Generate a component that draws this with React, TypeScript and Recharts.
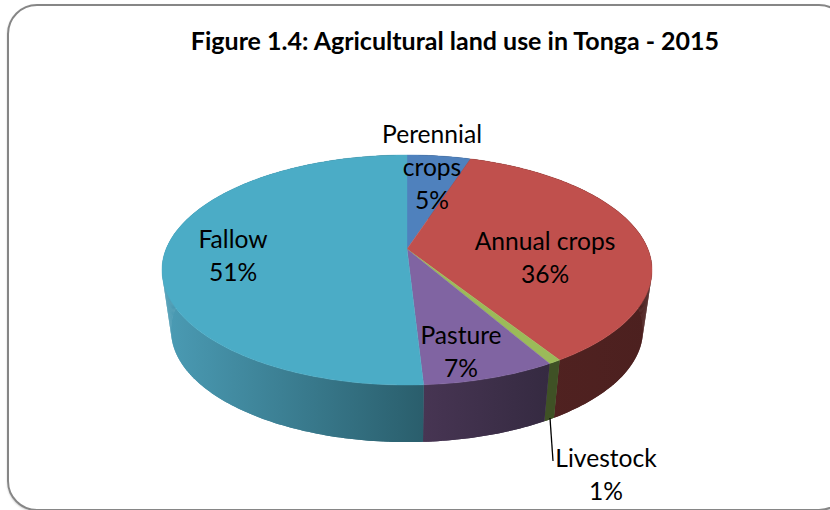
import { PieChart, Pie } from 'recharts';

const SLICE_NAMES = ['Perennial crops', 'Annual crops', 'Livestock', 'Pasture', 'Fallow'];
const SLICE_VALUES = [5, 36, 0.7, 7.4, 50.9];
const TOP_COLORS = ['#4f81bd', '#c0504d', '#9bbb59', '#8064a2', '#4bacc6'];
const WALL_COLORS = [
  ['#2a4160', '#2a4160'],
  ['#532322', '#4c201f'],
  ['#3f5125', '#3f5125'],
  ['#473553', '#352a41'],
  ['#4b9cb5', '#2a5e6c'],
];
const LABEL_LINES = [['Perennial', 'crops'], ['Annual crops'], ['Livestock'], ['Pasture'], ['Fallow']];
const LABEL_X = [432, 545, 606, 461, 233];
const LABEL_Y = [143, 250, 467, 344, 248];

const TITLE = 'Figure 1.4: Agricultural land use in Tonga - 2015';
const FONT = 'Lato, "Open Sans", sans-serif';

// the pie is tilted: points nearer the viewer are spread out more
const PERSPECTIVE = 0.1826;
const TOP_TILT = 0.4616;
const BOTTOM_SCALE = 0.963;
const BOTTOM_TILT = 0.4483;
const BOTTOM_DROP = 61;

const data = SLICE_NAMES.map((name, i) => ({
  name,
  value: SLICE_VALUES[i],
  fill: TOP_COLORS[i],
  index: i,
}));

const rimPoints = (cx: number, cy: number, r: number, tilt: number, startAngle: number, endAngle: number) => {
  const from = 90 - startAngle;
  const to = 90 - endAngle;
  const steps = Math.max(2, Math.ceil(to - from));
  const points: [number, number][] = [];
  for (let i = 0; i <= steps; i++) {
    const t = ((from + ((to - from) * i) / steps) * Math.PI) / 180;
    const x = Math.sin(t);
    const y = Math.cos(t);
    const w = 1 / (1 + PERSPECTIVE * y);
    points.push([cx + r * x * w, cy - r * tilt * y * w]);
  }
  return points;
};

const toLine = (points: [number, number][]) => points.map((p) => p.join(',')).join(' L');

const TopSlice = (props: any) => {
  const { cx, cy, outerRadius, startAngle, endAngle, fill } = props;
  const rim = rimPoints(cx, cy, outerRadius, TOP_TILT, startAngle, endAngle);
  return <path d={`M${cx},${cy} L${toLine(rim)} Z`} fill={fill} stroke={fill} strokeWidth={0.4} />;
};

// outline first, then one quad per step on top: the outline alone misses the part at the silhouette
const WallSlice = (props: any) => {
  const { cx, cy, outerRadius, startAngle, endAngle, payload } = props;
  const top = rimPoints(cx, cy, outerRadius, TOP_TILT, startAngle, endAngle);
  const bottom = rimPoints(
    cx,
    cy + BOTTOM_DROP,
    outerRadius * BOTTOM_SCALE,
    BOTTOM_TILT / BOTTOM_SCALE,
    startAngle,
    endAngle,
  );
  const id = `wall-${payload.index}`;
  const [c1, c2] = WALL_COLORS[payload.index];
  const xs = top.concat(bottom).map((p) => p[0]);
  return (
    <g>
      <defs>
        <linearGradient id={id} gradientUnits="userSpaceOnUse" x1={Math.min(...xs)} y1="0" x2={Math.max(...xs)} y2="0">
          <stop offset="0%" stopColor={c1} />
          <stop offset="100%" stopColor={c2} />
        </linearGradient>
      </defs>
      <path d={`M${toLine(top)} L${toLine([...bottom].reverse())} Z`} fill={`url(#${id})`} />
      {top.slice(1).map((p, i) => (
        <path
          key={i}
          d={`M${top[i].join(',')} L${p.join(',')} L${bottom[i + 1].join(',')} L${bottom[i].join(',')} Z`}
          fill={`url(#${id})`}
        />
      ))}
    </g>
  );
};

const SliceLabel = (props: any) => {
  const i = props.index;
  const lines = [...LABEL_LINES[i], `${Math.round(SLICE_VALUES[i])}%`];
  return (
    <g>
      {SLICE_NAMES[i] === 'Livestock' && <path d="M550,418 L553,461" stroke="#000" strokeWidth={1.3} fill="none" />}
      <text x={LABEL_X[i]} y={LABEL_Y[i]} textAnchor="middle" fontFamily={FONT} fontSize={24.6} fill="#000">
        {lines.map((line, n) => (
          <tspan key={n} x={LABEL_X[i]} dy={n === 0 ? 0 : 33}>
            {line}
          </tspan>
        ))}
      </text>
    </g>
  );
};

export default function App() {
  return (
    <div style={{ position: 'fixed', left: 0, top: 0, width: 830, height: 510, overflow: 'hidden', background: '#fff' }}>
      <div
        style={{
          position: 'absolute',
          left: 7,
          top: 4,
          width: 838,
          height: 503,
          border: '2px solid #868686',
          borderRadius: 30,
          boxShadow: '0 1px 2px rgba(0,0,0,0.2)',
        }}
      />
      <div
        style={{
          position: 'absolute',
          left: 0,
          top: 26,
          width: 910,
          textAlign: 'center',
          fontFamily: FONT,
          fontWeight: 700,
          fontSize: 25,
          lineHeight: '28px',
          color: '#000',
        }}
      >
        {TITLE}
      </div>
      <div style={{ position: 'absolute', left: 0, top: 0 }}>
        <PieChart width={830} height={510} margin={{ top: 0, right: 0, bottom: 0, left: 0 }}>
          <Pie
            data={data}
            dataKey="value"
            nameKey="name"
            cx={407}
            cy={249}
            innerRadius={0}
            outerRadius={240.9}
            startAngle={90}
            endAngle={-270}
            isAnimationActive={false}
            shape={WallSlice}
            label={false}
            labelLine={false}
          />
          <Pie
            data={data}
            dataKey="value"
            nameKey="name"
            cx={407}
            cy={249}
            innerRadius={0}
            outerRadius={240.9}
            startAngle={90}
            endAngle={-270}
            isAnimationActive={false}
            shape={TopSlice}
            label={SliceLabel}
            labelLine={false}
          />
        </PieChart>
      </div>
    </div>
  );
}
